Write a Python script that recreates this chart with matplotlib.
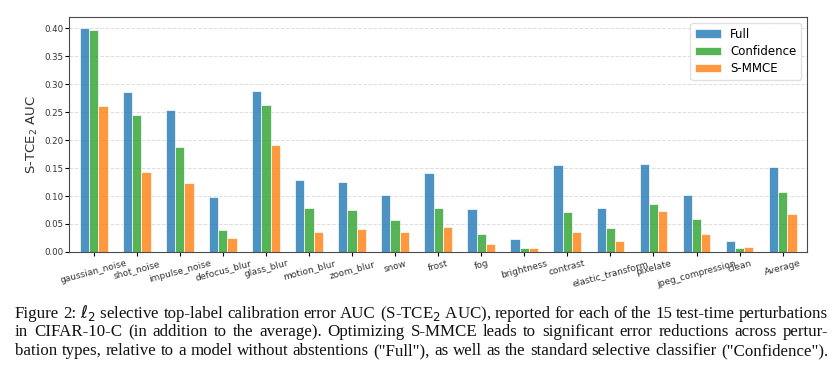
import numpy as np
import matplotlib.pyplot as plt

categories = ['gaussian_noise', 'shot_noise', 'impulse_noise', 'defocus_blur', 'glass_blur',
              'motion_blur', 'zoom_blur', 'snow', 'frost', 'fog', 'brightness', 'contrast',
              'elastic_transform', 'pixelate', 'jpeg_compression', 'clean', 'Average']

full = [0.400, 0.286, 0.253, 0.099, 0.287, 0.129, 0.125, 0.101, 0.141, 0.076,
        0.024, 0.155, 0.079, 0.157, 0.101, 0.019, 0.152]
confidence = [0.397, 0.245, 0.188, 0.040, 0.263, 0.079, 0.075, 0.058, 0.079, 0.032,
              0.007, 0.071, 0.043, 0.085, 0.059, 0.007, 0.108]
smmce = [0.261, 0.143, 0.124, 0.025, 0.191, 0.035, 0.041, 0.036, 0.044, 0.015,
         0.007, 0.035, 0.020, 0.073, 0.032, 0.008, 0.067]

caption = [
    r"Figure 2: $\ell_2$ selective top-label calibration error AUC (S-TCE$_2$ AUC), reported for each of the 15 test-time perturbations",
    "in CIFAR-10-C (in addition to the average). Optimizing S-MMCE leads to significant error reductions across pertur-",
    "bation types, relative to a model without abstentions (\"Full\"), as well as the standard selective classifier (\"Confidence\").",
]

fig = plt.figure(figsize=(8.33, 3.7), dpi=100)
ax = fig.add_axes([0.083, 0.319, 0.886, 0.635])

x = np.arange(len(categories))
w = 0.215
ax.bar(x - w, full, w, color='tab:blue', alpha=0.8, edgecolor='white', linewidth=0.6, label='Full', zorder=3)
ax.bar(x, confidence, w, color='tab:green', alpha=0.8, edgecolor='white', linewidth=0.6, label='Confidence', zorder=3)
ax.bar(x + w, smmce, w, color='tab:orange', alpha=0.8, edgecolor='white', linewidth=0.6, label='S-MMCE', zorder=3)

ax.set_xticks(x)
ax.set_xticklabels(categories, rotation=15, fontsize=6.5, color='#333333')
ax.set_xlim(-0.57, len(categories) - 0.43)
ax.set_yticks(np.arange(0, 0.41, 0.05))
ax.set_yticklabels([f'{v:.2f}' for v in np.arange(0, 0.41, 0.05)])
ax.tick_params(axis='y', labelsize=6.2, labelcolor='#333333', length=3, pad=1.2)
ax.tick_params(axis='x', length=3, pad=2)
ax.set_ylabel(r'S-TCE$_2$ AUC', fontsize=9.5, color='#333333')
ax.yaxis.set_label_coords(-0.039, 0.5)
ax.yaxis.grid(True, linestyle='--', color='#dddddd', linewidth=0.7, zorder=0)
for s in ax.spines.values():
    s.set_color('#4a4a4a')

ax.legend(loc='upper right', fontsize=8.5, framealpha=0.9, edgecolor='#dddddd',
          handlelength=2.2, labelspacing=0.35)

# caption lines, justified word by word like the LaTeX original
left, right = 15 / 833, 828 / 833
baselines = [318, 336.5, 355]
fig.canvas.draw()
renderer = fig.canvas.get_renderer()
for i, line in enumerate(caption):
    y = 1 - baselines[i] / 370
    words = line.replace(r"$\ell_2$ ", r"$\ell_2$~").replace("S-TCE$_2$ AUC", "S-TCE$_2$~AUC").split(' ')
    words = [wd.replace('~', ' ') for wd in words]
    texts = [fig.text(0, y, wd, family='Liberation Serif', fontsize=12.2, ha='left',
                      va='baseline', color='#111111') for wd in words]
    widths = [t.get_window_extent(renderer).width / 833 for t in texts]
    gap = (right - left - sum(widths)) / (len(words) - 1)
    gap = min(gap, 0.0072)
    pos = left
    for t, wdt in zip(texts, widths):
        t.set_x(pos)
        pos += wdt + gap

fig.savefig('out.png', dpi=100)
